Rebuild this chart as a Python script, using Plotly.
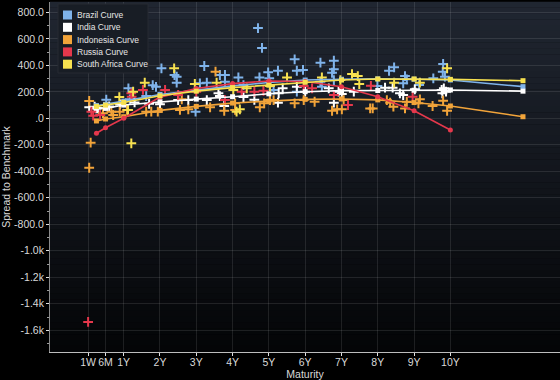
import plotly.graph_objects as go

# ---------------- data ----------------
countries = ["Brazil", "India", "Indonesia", "Russia", "South Africa"]
colors = {"Brazil": "#7fb3ea", "India": "#ffffff", "Indonesia": "#f2a43a",
          "Russia": "#e5384c", "South Africa": "#f7e150"}

tick_vals = [7/365, 0.5, 1, 2, 3, 4, 5, 6, 7, 8, 9, 10]
tick_text = ["1W", "6M", "1Y", "2Y", "3Y", "4Y", "5Y", "6Y", "7Y", "8Y", "9Y", "10Y"]

y_vals = [800, 600, 400, 200, 0, -200, -400, -600, -800, -1000, -1200, -1400, -1600]
y_text = ["800.0", "600.0", "400.0", "200.0", ".0", "-200.0", "-400.0", "-600.0",
          "-800.0", "-1.0k", "-1.2k", "-1.4k", "-1.6k"]

# bonds (maturity in years, spread)
brazil_x = [0.52, 1.13, 1.17, 1.62, 1.80, 1.89, 2.04, 2.40, 2.46, 2.46, 2.98, 3.10, 3.22, 3.29,
            3.65, 3.79, 3.79, 4.16, 4.30, 4.70, 4.74, 4.81, 4.98, 5.01, 5.13, 5.25, 5.71, 5.77,
            5.77, 5.94, 6.42, 6.42, 6.46, 6.74, 6.79, 6.79, 6.79, 7.99, 8.31, 8.45, 8.70, 8.75,
            8.80, 9.14, 9.53, 9.79, 9.80, 9.85]
brazil_y = [140, 226, 143, 168, 250, 238, 377, 327, 314, 269, 50, 264, 395, 269,
            327, 327, 276, 309, 251, 681, 309, 531, 347, 302, 214, 359, 445, 359,
            201, 365, 420, 276, 239, 344, 435, 370, 289, 244, 359, 385, 264, 319,
            294, 251, 302, 352, 410, 314]

india_x = [0.05, 0.20, 0.24, 0.29, 0.6, 0.9, 1.3, 1.7, 2.0, 2.5, 2.78, 3.29, 3.61, 3.65, 3.77,
           4.3, 4.6, 5.25, 5.27, 5.38, 5.77, 6.0, 6.65, 6.79, 6.92, 7.01, 7.34, 8.20, 8.41,
           8.61, 8.70, 9.02, 9.76, 9.78, 9.82, 9.88]
india_y = [83, 88, 75, 75, 90, 105, 120, 110, 107, 138, 138, 138, 189, 168, 93,
           160, 140, 118, 189, 226, 239, 201, 226, 118, 201, 183, 201, 231, 231,
           189, 176, 219, 214, 189, 226, 201]

indonesia_x = [0.05, 0.05, 0.09, 0.43, 0.66, 0.71, 0.89, 1.09, 1.62, 1.76, 1.94, 2.55, 2.60,
               2.78, 3.38, 3.53, 3.77, 4.07, 4.07, 4.75, 4.87, 5.03, 5.13, 5.71, 5.96, 6.26,
               6.74, 6.88, 7.01, 7.06, 7.79, 7.86, 8.25, 8.34, 8.43, 8.75, 8.80, 9.12, 9.16,
               9.51, 9.80, 9.91]
indonesia_y = [131, -373, -184, 38, 50, 25, 50, 63, 50, 50, 50, 63, 143,
               68, 83, 352, 57, 113, 63, 83, 113, 138, 138, 113, 138, 125,
               57, 68, 68, 138, 75, 75, 138, 118, 88, 75, 125, 113, 143,
               93, 133, 57]

russia_x = [0.02, 0.11, 0.16, 0.35, 1.21, 1.22, 1.53, 2.14, 2.5, 3.0, 3.79, 4.25, 4.60, 4.85,
            5.96, 6.19, 6.79, 7.18, 7.81, 8.96]
russia_y = [-1537, 50, 20, 25, 189, 163, 214, 214, 176, 200, 138, 201, 201, 208,
            244, 226, 176, 100, 245, 163]

safrica_x = [0.88, 1.12, 1.21, 1.26, 1.58, 2.39, 2.96, 3.56, 4.02, 4.11, 4.20, 4.39, 5.03, 5.5,
             6.46, 6.97, 7.29, 7.45, 7.49, 8.45, 9.16, 9.91]
safrica_y = [160, 63, -189, 201, 269, 377, 259, 269, 214, 50, 68, 226, 244, 309,
             309, 289, 334, 319, 259, 269, 269, 377]

# fitted curves
curve_tenors = [0.25, 0.5, 1, 2, 3, 4, 5, 6, 7, 8, 9, 10, 12]
russia_tenors = [0.25, 0.5, 1, 2, 3, 4, 5, 6, 7, 8, 9, 10]
brazil_curve = [95, 105, 130, 180, 215, 245, 270, 289, 295, 298, 295, 289, 239]
india_curve = [83, 75, 100, 125, 145, 163, 185, 201, 209, 210, 212, 214, 205]
indonesia_curve = [-20, -5, 12, 60, 90, 115, 130, 143, 146, 139, 119, 93, 12]
russia_curve = [-113, -71, 0, 160, 225, 262, 282, 278, 238, 163, 57, -88]
safrica_curve = [90, 100, 120, 170, 205, 232, 250, 272, 289, 297, 297, 294, 284]

bonds = {"Brazil": (brazil_x, brazil_y), "India": (india_x, india_y),
         "Indonesia": (indonesia_x, indonesia_y), "Russia": (russia_x, russia_y),
         "South Africa": (safrica_x, safrica_y)}
curves = {"Brazil": (curve_tenors, brazil_curve), "India": (curve_tenors, india_curve),
          "Indonesia": (curve_tenors, indonesia_curve), "Russia": (russia_tenors, russia_curve),
          "South Africa": (curve_tenors, safrica_curve)}

# ---------------- figure ----------------
W, H = 560, 380
ML, MR, MT, MB = 50, 0, 2, 28
PW, PH = W - ML - MR, H - MT - MB

def px_x(p):
    return (p - ML) / PW

def px_y(p):
    return (H - MB - p) / PH

fig = go.Figure()

# gradient background of the plot area
shapes = []
N = 60
top = (0x20, 0x26, 0x31)
bot = (0x04, 0x05, 0x07)
for i in range(N):
    t = i / (N - 1)
    c = tuple(int(round(top[k] + (bot[k] - top[k]) * t)) for k in range(3))
    shapes.append(dict(type="rect", xref="paper", yref="paper", x0=0, x1=1,
                       y0=1 - (i + 1) / N, y1=1 - i / N + 0.001, line=dict(width=0),
                       fillcolor="rgb(%d,%d,%d)" % c, layer="below"))

for c in countries:
    bx, by = bonds[c]
    fig.add_trace(go.Scatter(x=bx, y=by, mode="markers", showlegend=False,
                             marker=dict(symbol="cross-thin", size=7, color=colors[c],
                                         line=dict(width=2, color=colors[c]))))
for c in countries:
    cx, cy = curves[c]
    fig.add_trace(go.Scatter(x=cx, y=cy, mode="lines+markers", showlegend=False,
                             line=dict(color=colors[c], width=1.6),
                             marker=dict(symbol="circle" if c == "Russia" else "square",
                                         size=5, color=colors[c])))

# legend (drawn as box + swatches + text)
shapes.append(dict(type="rect", xref="paper", yref="paper", x0=px_x(58), x1=px_x(148),
                   y0=px_y(73), y1=px_y(4), fillcolor="#181d25",
                   line=dict(color="#262b33", width=1)))
annotations = []
for i, c in enumerate(countries):
    yc = 15 + i * 12.3
    shapes.append(dict(type="rect", xref="paper", yref="paper", x0=px_x(63), x1=px_x(72),
                       y0=px_y(yc + 4.5), y1=px_y(yc - 4.5), fillcolor=colors[c],
                       line=dict(width=0)))
    annotations.append(dict(x=px_x(75), y=px_y(yc), xref="paper", yref="paper",
                            text=c + " Curve", showarrow=False, xanchor="left",
                            yanchor="middle",
                            font=dict(family="Liberation Sans", size=8.5, color="#e6e6e6")))

grid_c = "rgba(255,255,255,0.10)"
fig.update_layout(
    width=W, height=H,
    margin=dict(l=ML, r=MR, t=MT, b=MB),
    paper_bgcolor="#000000", plot_bgcolor="rgba(0,0,0,0)",
    shapes=shapes, annotations=annotations,
    font=dict(family="Liberation Sans", size=10.5, color="#d9d9d9"),
    xaxis=dict(range=[-1.03, 13.02], tickmode="array", tickvals=tick_vals, ticktext=tick_text,
               showgrid=True, gridcolor=grid_c, gridwidth=1, zeroline=False,
               showline=True, linecolor="#bdbdbd", linewidth=1,
               ticks="outside", ticklen=3, tickcolor="#e0e0e0",
               ticklabelstandoff=-3,
               tickfont=dict(size=10.5, color="#d9d9d9"),
               title=dict(text="Maturity", standoff=4, font=dict(size=10.5, color="#d9d9d9"))),
    yaxis=dict(range=[-1764, 878], tickmode="array", tickvals=y_vals, ticktext=y_text,
               showgrid=True, gridcolor=grid_c, gridwidth=1, zeroline=False,
               showline=True, linecolor="#8a8a8a", linewidth=1,
               ticks="outside", ticklen=3, tickcolor="#e0e0e0",
               minor=dict(dtick=100, tick0=0, ticks="outside", ticklen=2, tickcolor="#9a9a9a",
                          showgrid=False),
               tickfont=dict(size=10.5, color="#d9d9d9"),
               title=dict(text="Spread to Benchmark", standoff=1,
                          font=dict(size=10.5, color="#d9d9d9"))),
)

fig.write_html("out.html", config={"displayModeBar": False},
               post_script="document.body.style.margin='0';document.body.style.background='#000';")
